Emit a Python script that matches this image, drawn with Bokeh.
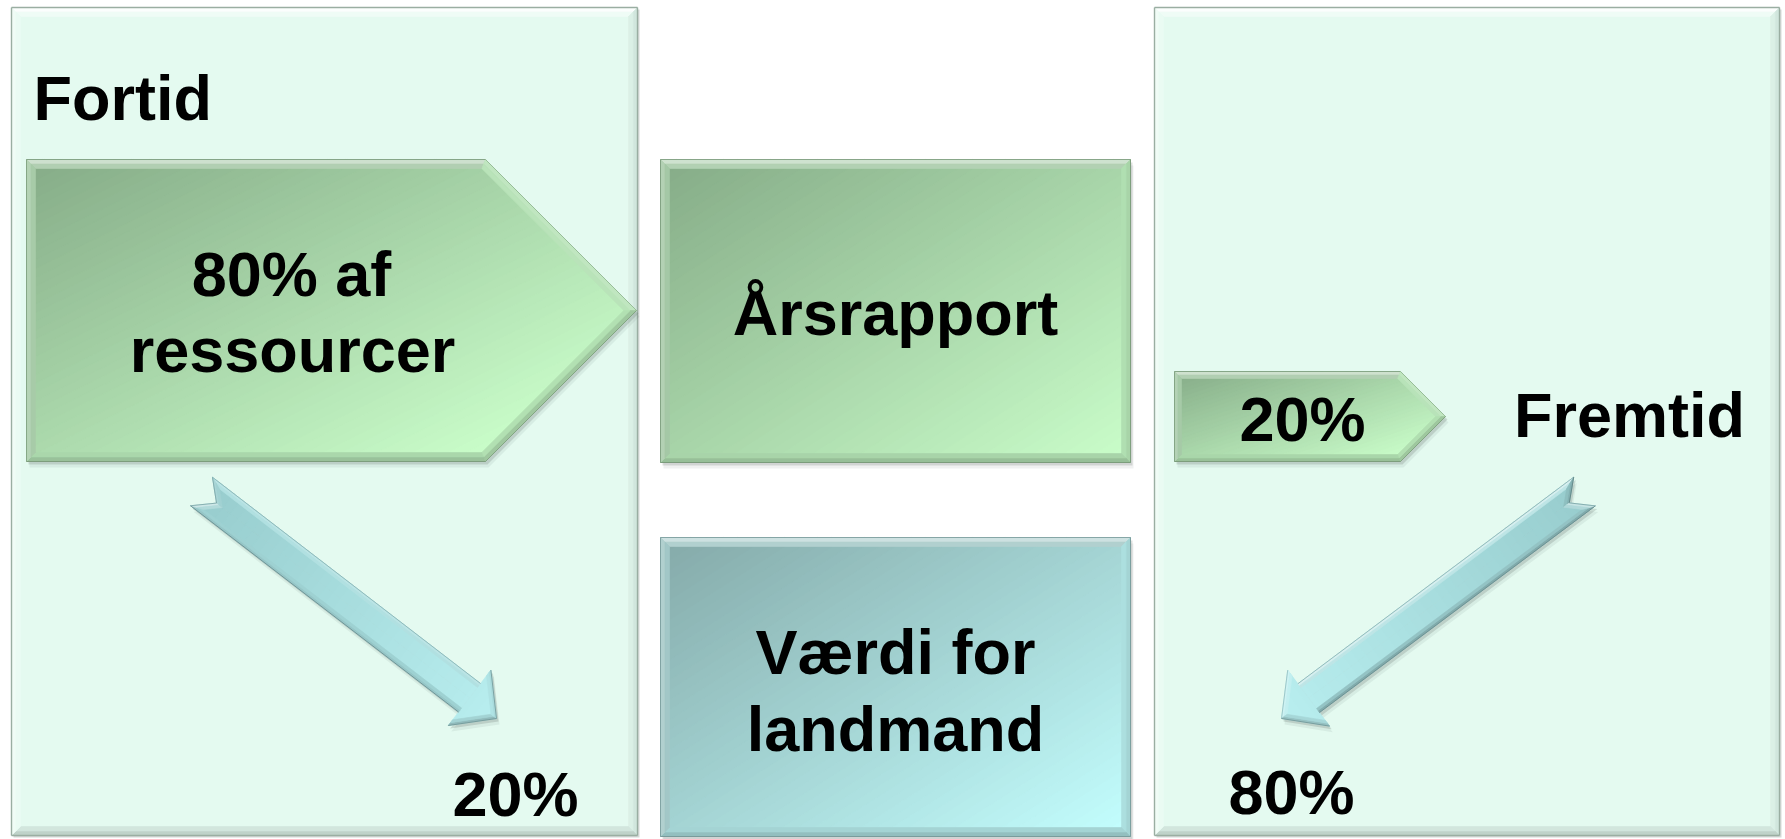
import numpy as np
from bokeh.plotting import figure
from bokeh.models import Range1d
from bokeh.core.properties import value
from bokeh.embed import file_html
from bokeh.resources import INLINE

# ---------------- data ----------------
period_labels = ["Fortid", "Fremtid"]
resource_share_pct = [80, 20]        # share of resources spent on past / future
value_share_pct = [20, 80]           # share of value obtained from past / future
resource_words = ["af", "ressourcer"]
center_labels = ["Årsrapport", "Værdi for", "landmand"]

# ---------------- layout (reference pixel space) ----------------
LEFT_PANEL = (11, 7, 637, 835)
RIGHT_PANEL = (1154, 7, 1779, 835)
BIG_ARROW = (26, 159, 485, 461, 636)       # x0, y0, x1, y1, tip x
BOX_TOP = (660, 159, 1130, 462)
BOX_BOTTOM = (660, 537, 1130, 836)
SMALL_ARROW = (1174, 371, 1400, 461, 1445)
DIAG_LEFT = ((201, 491), (496, 718))
DIAG_RIGHT = ((1584, 491), (1281, 718))
DIAG_DIMS = dict(hw=18, hh=35, hl=34, nd=19)
TEXT_DY = -24   # compensates the renderer's baseline placement

PANEL_FILL = "#E4FAF0"
GREEN = ("#85AB87", "#CAFECA")
TEAL = ("#84A9A8", "#C4FFFF")
DIAG = ("#97CCCD", "#B8EEEF")

W, H = 1785, 839
p = figure(width=W, height=H, x_range=Range1d(0, W), y_range=Range1d(H, 0),
           output_backend="svg", toolbar_location=None, min_border=0,
           x_axis_type=None, y_axis_type=None, outline_line_color=None,
           background_fill_color="white", border_fill_color="white")
p.grid.visible = False

WHITE = np.array([255.0, 255.0, 255.0])
LIGHT = np.array([-0.45, -0.89]) / np.hypot(-0.45, -0.89)


def hexrgb(h):
    return np.array([int(h[i:i + 2], 16) for i in (1, 3, 5)], float)


def tohex(c):
    c = np.clip(np.round(c), 0, 255).astype(int)
    return "#%02x%02x%02x" % tuple(c)


def unit(v):
    v = np.asarray(v, float)
    return v / np.hypot(v[0], v[1])


def clip(poly, n, c):
    out = []
    m = len(poly)
    for i in range(m):
        a, b = poly[i], poly[(i + 1) % m]
        da, db = np.dot(n, a) - c, np.dot(n, b) - c
        if da <= 0:
            out.append(a)
        if (da < 0 < db) or (db < 0 < da):
            t = da / (da - db)
            out.append(a + (b - a) * t)
    return out


def inward(poly):
    cen = np.mean(poly, axis=0)
    res = []
    m = len(poly)
    for i in range(m):
        a, b = poly[i], poly[(i + 1) % m]
        d = b - a
        nn = unit((d[1], -d[0]))
        if np.dot(nn, cen - a) < 0:
            nn = -nn
        res.append(nn)
    return res


def inset(poly, dists):
    m = len(poly)
    nin = inward(poly)
    lines = [(poly[i] + nin[i] * dists[i], poly[(i + 1) % m] - poly[i]) for i in range(m)]
    out = []
    for i in range(m):
        p1, d1 = lines[i - 1]
        p2, d2 = lines[i]
        A = np.array([[d1[0], -d2[0]], [d1[1], -d2[1]]])
        t, _ = np.linalg.solve(A, p2 - p1)
        out.append(p1 + t * d1)
    return out


layers = {k: dict(xs=[], ys=[], color=[], alpha=[]) for k in
          ("pshadow", "pfill", "pbevel", "shadow", "fill", "bevel")}
outl = {k: dict(xs=[], ys=[], color=[]) for k in ("poutline", "outline")}


def push(layer, poly, color, alpha=1.0):
    layers[layer]["xs"].append([float(q[0]) for q in poly])
    layers[layer]["ys"].append([float(q[1]) for q in poly])
    layers[layer]["color"].append(color)
    layers[layer]["alpha"].append(alpha)


def add_shape(pieces, c0, c1, gdir, bevel, nstrips=60, kl=0.6, kd=0.45,
              panel=False, shadow=((2, 3, 0.16), (3, 6, 0.07))):
    c0, c1 = hexrgb(c0), hexrgb(c1)
    g = unit(gdir)
    allpts = [q for poly, _ in pieces for q in poly]
    s = [np.dot(g, q) for q in allpts]
    smin, smax = min(s), max(s)
    ds = (smax - smin) / nstrips
    pre = "p" if panel else ""

    def col_at(pt):
        t = (np.dot(g, pt) - smin) / (smax - smin)
        return c0 + (c1 - c0) * np.clip(t, 0, 1)

    for poly, flags in pieces:
        for dx, dy, a in shadow:
            push(pre + "shadow", [q + np.array([dx, dy]) for q in poly], "#2f3f36", a)
    for poly, flags in pieces:
        for k in range(nstrips):
            lo = smin + k * ds - (0.9 if k > 0 else 0.0)
            hi = smin + (k + 1) * ds
            piece = clip(clip(poly, g, hi), -g, -lo)
            if len(piece) >= 3:
                push(pre + "fill", piece, tohex(c0 + (c1 - c0) * (k + 0.5) / nstrips))
        m = len(poly)
        nin = inward(poly)
        mid = inset(poly, [bevel * 0.5 if f else 0 for f in flags])
        inn = inset(poly, [bevel if f else 0 for f in flags])
        for i in range(m):
            if not flags[i]:
                continue
            j = (i + 1) % m
            sh = float(np.dot(-nin[i], LIGHT))
            base = col_at((poly[i] + poly[j]) / 2)
            for band, (o, q, inten) in enumerate(((poly, mid, 1.0), (mid, inn, 0.5))):
                if sh >= 0:
                    c = base + (WHITE - base) * kl * sh * inten
                else:
                    c = base + (base * 0.55 - base) * kd * (-sh) * inten
                push(pre + "bevel", [o[i], o[j], q[j], q[i]], tohex(c))
            oc = tohex(base * (0.62 if sh < 0.3 else 0.8))
            key = "poutline" if panel else "outline"
            outl[key]["xs"].append([float(poly[i][0]), float(poly[j][0])])
            outl[key]["ys"].append([float(poly[i][1]), float(poly[j][1])])
            outl[key]["color"].append(oc)


def rect(x0, y0, x1, y1):
    return [np.array(v, float) for v in ((x0, y0), (x1, y0), (x1, y1), (x0, y1))]


def pentagon(x0, y0, x1, y1, tip):
    return [np.array(v, float) for v in ((x0, y0), (x1, y0), (tip, (y0 + y1) / 2), (x1, y1), (x0, y1))]


def arrow_pieces(T, P, hw, hh, hl, nd):
    T = np.array(T, float)
    P = np.array(P, float)
    u = unit(P - T)
    n = np.array([-u[1], u[0]])
    Hc = P - hl * u
    up = [T + hw * n, Hc + hw * n, Hc, T + nd * u]
    lo = [T + nd * u, Hc, Hc - hw * n, T - hw * n]
    head = [Hc + hh * n, P, Hc - hh * n]
    return [(up, [True, False, False, True]),
            (lo, [False, False, True, True]),
            (head, [True, True, False])], u


# panels
for pan in (LEFT_PANEL, RIGHT_PANEL):
    add_shape([(rect(*pan), [True] * 4)], PANEL_FILL, PANEL_FILL, (0, 1), 9,
              nstrips=1, kl=0.95, kd=0.4, panel=True, shadow=((2, 2, 0.2),))

# green shapes
bx0, by0, bx1, by1, btip = BIG_ARROW
add_shape([(pentagon(*BIG_ARROW), [True] * 5)], GREEN[0], GREEN[1],
          (1 / (btip - bx0), 1 / (by1 - by0)), 9)
add_shape([(rect(*BOX_TOP), [True] * 4)], GREEN[0], GREEN[1],
          (1 / (BOX_TOP[2] - BOX_TOP[0]), 1 / (BOX_TOP[3] - BOX_TOP[1])), 9)
sx0, sy0, sx1, sy1, stip = SMALL_ARROW
add_shape([(pentagon(*SMALL_ARROW), [True] * 5)], GREEN[0], GREEN[1],
          (1 / (stip - sx0), 1 / (sy1 - sy0)), 7, nstrips=40)
# teal box
add_shape([(rect(*BOX_BOTTOM), [True] * 4)], TEAL[0], TEAL[1],
          (1 / (BOX_BOTTOM[2] - BOX_BOTTOM[0]), 1 / (BOX_BOTTOM[3] - BOX_BOTTOM[1])), 9)
# diagonal arrows
for T, P in (DIAG_LEFT, DIAG_RIGHT):
    pcs, u = arrow_pieces(T, P, **DIAG_DIMS)
    add_shape(pcs, DIAG[0], DIAG[1], u, 5, nstrips=40, kl=0.55, kd=0.5)

# draw layers
for key in ("pshadow", "pfill", "pbevel"):
    L = layers[key]
    if L["xs"]:
        p.patches(L["xs"], L["ys"], fill_color=L["color"], fill_alpha=L["alpha"],
                  line_color=L["color"] if key != "pshadow" else None, line_width=0.6,
                  line_alpha=L["alpha"])
p.multi_line(outl["poutline"]["xs"], outl["poutline"]["ys"], line_color="#9AAEA2", line_width=1.4)
for key in ("shadow", "fill", "bevel"):
    L = layers[key]
    if L["xs"]:
        p.patches(L["xs"], L["ys"], fill_color=L["color"], fill_alpha=L["alpha"],
                  line_color=L["color"] if key != "shadow" else None, line_width=0.6,
                  line_alpha=L["alpha"])
p.multi_line(outl["outline"]["xs"], outl["outline"]["ys"], line_color=outl["outline"]["color"],
             line_width=1.0, line_alpha=0.8)

# texts
FONT = value("Liberation Sans")
FS = "63px"
centered = [
    (f"{resource_share_pct[0]}% {resource_words[0]}", 291, 297),
    (resource_words[1], 292, 373),
    (center_labels[0], 895, 336),
    (center_labels[1], 895, 675),
    (center_labels[2], 895, 752),
    (f"{resource_share_pct[1]}%", 1302, 442),
    (period_labels[1], 1629, 438),
    (f"{value_share_pct[0]}%", 515, 817),
    (f"{value_share_pct[1]}%", 1291, 815),
]
p.text(x=[c[1] for c in centered], y=[c[2] + TEXT_DY for c in centered], text=[c[0] for c in centered],
       text_font=FONT, text_font_style="bold", text_font_size=FS, text_color="black",
       text_align="center", text_baseline="alphabetic")
p.text(x=[33], y=[121 + TEXT_DY], text=[period_labels[0]], text_font=FONT, text_font_style="bold",
       text_font_size=FS, text_color="black", text_align="left", text_baseline="alphabetic")

open("out.html", "w").write(file_html(p, INLINE))
